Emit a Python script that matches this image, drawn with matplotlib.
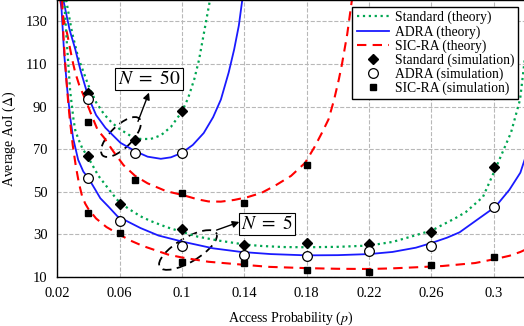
import numpy as np
import matplotlib.pyplot as plt
from matplotlib.patches import Ellipse
from matplotlib.transforms import IdentityTransform

plt.rcParams['font.family'] = ['Liberation Serif', 'DejaVu Serif']
plt.rcParams['mathtext.fontset'] = 'stix'

# ---- theory curves ----
# N = 50
p_std50 = [0.0258, 0.0295, 0.0335, 0.037, 0.04, 0.045, 0.05, 0.055, 0.06, 0.067, 0.0735,
           0.08, 0.0865, 0.093, 0.1, 0.104, 0.108, 0.111, 0.114, 0.116, 0.118]
v_std50 = [140, 125, 113, 106, 100, 92, 86.5, 82.5, 79.5, 76.3, 74.8,
           74.8, 76.5, 80.5, 87.6, 94, 103, 112, 124, 132, 140]

p_adra50 = [0.024, 0.028, 0.0316, 0.035, 0.04, 0.045, 0.051, 0.0606, 0.0703, 0.078, 0.0865,
            0.093, 0.1, 0.107, 0.114, 0.12, 0.125, 0.13, 0.1335, 0.1365, 0.1387]
v_adra50 = [140, 126, 117, 107, 94.5, 86, 80, 73, 69, 66.5, 65.5,
            66.2, 68.3, 72, 77.6, 85, 93.3, 106, 116.8, 128, 140]

p_sic50 = [0.022, 0.0245, 0.0265, 0.0297, 0.0316, 0.0342, 0.0394, 0.0426, 0.046, 0.05, 0.056,
           0.0626, 0.07, 0.078, 0.09, 0.1, 0.11, 0.117, 0.125, 0.1335, 0.142, 0.151, 0.16,
           0.17, 0.179, 0.185, 0.19, 0.194, 0.1975, 0.2006, 0.2026, 0.206, 0.209]
v_sic50 = [140, 130, 124, 112, 106, 100, 91, 85, 79, 75.5, 69,
           62.5, 57.5, 54, 50.3, 48.6, 46.5, 45.5, 45.4, 46.2, 47.5, 49.5, 53,
           57.5, 63.6, 71, 78, 84, 93, 102.7, 109.8, 124, 140]

# N = 5
p_std5 = [0.0245, 0.0265, 0.0284, 0.0305, 0.0316, 0.0335, 0.0361, 0.04, 0.0465, 0.0555, 0.06,
          0.067, 0.0735, 0.08, 0.09, 0.1, 0.11, 0.123, 0.14, 0.151, 0.165, 0.18, 0.2, 0.22,
          0.235, 0.246, 0.2606, 0.267, 0.275, 0.282, 0.293, 0.3013, 0.311, 0.3168, 0.3206]
v_std5 = [140, 117, 97, 84, 79, 75, 70.5, 66, 57.5, 49, 45,
          41.5, 38.5, 36.3, 33.5, 31.2, 29, 27.2, 25.3, 24.6, 24.1, 24.0, 24.2, 24.8,
          26.5, 28.8, 32, 34.5, 37.5, 40.5, 47.6, 61.3, 77.8, 93.3, 117]

p_adra5 = [0.0225, 0.0245, 0.0265, 0.0284, 0.0303, 0.0335, 0.0368, 0.04, 0.0445, 0.0477, 0.053,
           0.0587, 0.0735, 0.085, 0.1, 0.12, 0.138, 0.157, 0.18, 0.2, 0.22, 0.235, 0.25,
           0.26, 0.27, 0.278, 0.291, 0.301, 0.31, 0.317, 0.3206]
v_adra5 = [140, 115, 98, 85, 75, 65, 59.5, 56.5, 51, 47, 43,
           38.5, 33, 29.5, 26.7, 23.5, 21.8, 20.8, 20.2, 20.3, 20.8, 21.8, 23.8,
           26, 28.5, 31, 37.8, 43, 51, 59, 67]

p_sic5 = [0.0232, 0.024, 0.025, 0.026, 0.027, 0.028, 0.03, 0.032, 0.034, 0.036, 0.038, 0.04,
          0.045, 0.0516, 0.0587, 0.0665, 0.075, 0.091, 0.1, 0.117, 0.1426, 0.156, 0.18, 0.2,
          0.22, 0.235, 0.25, 0.267, 0.288, 0.301, 0.31, 0.317, 0.3206]
v_sic5 = [140, 124, 112, 102, 93, 85, 72, 62, 54, 48, 44.5, 42,
          37.5, 33.5, 30.5, 27.3, 24.6, 20.6, 19.2, 17.2, 15.6, 14.8, 14.2, 13.9,
          13.8, 14.1, 14.6, 15.2, 16.6, 18.5, 20, 21.8, 23]

# ---- simulation points ----
p_sim50 = [0.04, 0.07, 0.1]
std_sim50 = [96.6, 74.1, 87.8]
adra_sim50 = [93.6, 68.0, 68.3]
p_sic_sim50 = [0.04, 0.07, 0.1, 0.14, 0.18]
sic_sim50 = [82.6, 55.6, 49.4, 44.7, 62.7]

p_sim5 = [0.04, 0.06, 0.1, 0.14, 0.18, 0.22, 0.26, 0.3]
std_sim5 = [66.9, 44.4, 32.6, 25.2, 25.8, 25.5, 31.3, 61.6]
adra_sim5 = [56.7, 36.4, 24.6, 20.4, 19.9, 22.2, 24.7, 42.8]
sic_sim5 = [40.3, 30.9, 16.9, 16.4, 13.3, 12.5, 15.6, 19.6]

xticks = [0.02, 0.06, 0.1, 0.14, 0.18, 0.22, 0.26, 0.3]
xticklabels = ['0.02', '0.06', '0.1', '0.14', '0.18', '0.22', '0.26', '0.3']
yticks = [10, 30, 50, 70, 90, 110, 130]

green = '#00a651'
blue = '#1a1aff'
red = '#ff0000'

fig = plt.figure(figsize=(5.24, 3.26), dpi=100)
ax = fig.add_axes([0.109, 0.150, 0.893, 0.850])

ax.plot(p_std50, v_std50, ':', color=green, lw=1.6, label='Standard (theory)')
ax.plot(p_adra50, v_adra50, '-', color=blue, lw=1.3, label='ADRA (theory)')
ax.plot(p_sic50, v_sic50, '--', color=red, lw=1.5, dashes=(4.5, 3), label='SIC-RA (theory)')
ax.plot(p_std5, v_std5, ':', color=green, lw=1.6)
ax.plot(p_adra5, v_adra5, '-', color=blue, lw=1.3)
ax.plot(p_sic5, v_sic5, '--', color=red, lw=1.5, dashes=(4.5, 3))

ax.plot(p_sim50 + p_sim5, std_sim50 + std_sim5, 'D', color='black', ms=5.5,
        ls='none', label='Standard (simulation)')
ax.plot(p_sim50 + p_sim5, adra_sim50 + adra_sim5, 'o', mfc='white', mec='black', ms=7,
        mew=0.9, ls='none', label='ADRA (simulation)')
ax.plot(p_sic_sim50 + p_sim5, sic_sim50 + sic_sim5, 's', color='black', ms=5,
        ls='none', label='SIC-RA (simulation)')

ax.set_xlim(0.02, 0.32)
ax.set_ylim(10, 140)
ax.set_xticks(xticks)
ax.set_xticklabels(xticklabels)
ax.set_yticks(yticks)
ax.tick_params(length=0, labelsize=10.5, pad=7)
ax.grid(True, ls='--', color='#b8b8b8', lw=0.8)
for s in ax.spines.values():
    s.set_linewidth(1.0)

ax.set_xlabel('Access Probability ($p$)', fontsize=10, labelpad=7)
ax.set_ylabel(r'Average AoI ($\bar{\Delta}$)', fontsize=10, labelpad=5)

leg = ax.legend(loc='upper right', fontsize=9.8, frameon=True, fancybox=False,
                edgecolor='black', framealpha=1, handlelength=2.4, borderpad=0.3,
                labelspacing=0.05, handletextpad=0.4, borderaxespad=0.5)
leg.get_frame().set_linewidth(1.0)

# annotations (pixel coordinates, origin bottom-left)
H = 326
e1 = Ellipse((121, H - 137), 52, 22, angle=45, fill=False, ls=(0, (5, 3)),
             lw=1.3, color='black', transform=IdentityTransform())
e2 = Ellipse((188, H - 250), 66, 24, angle=31, fill=False, ls=(0, (5, 3)),
             lw=1.3, color='black', transform=IdentityTransform())
ax.add_patch(e1)
ax.add_patch(e2)

ax.annotate('', xy=(150 / 524, 1 - 90 / 326), xytext=(137 / 524, 1 - 124 / 326),
            xycoords='figure fraction', textcoords='figure fraction',
            arrowprops=dict(arrowstyle='-|>', color='black', lw=1.0, mutation_scale=10))
ax.annotate('', xy=(242 / 524, 1 - 221 / 326), xytext=(214 / 524, 1 - 231 / 326),
            xycoords='figure fraction', textcoords='figure fraction',
            arrowprops=dict(arrowstyle='-|>', color='black', lw=1.0, mutation_scale=10))

fig.text(149 / 524, 1 - 79 / 326, r'$N\ =\ 50$', fontsize=14, ha='center', va='center',
         bbox=dict(boxstyle='square,pad=0.12', fc='white', ec='black', lw=0.8))
fig.text(267 / 524, 1 - 224 / 326, r'$N\ =\ 5$', fontsize=14, ha='center', va='center',
         bbox=dict(boxstyle='square,pad=0.12', fc='white', ec='black', lw=0.8))

fig.savefig('out.png', dpi=100)
